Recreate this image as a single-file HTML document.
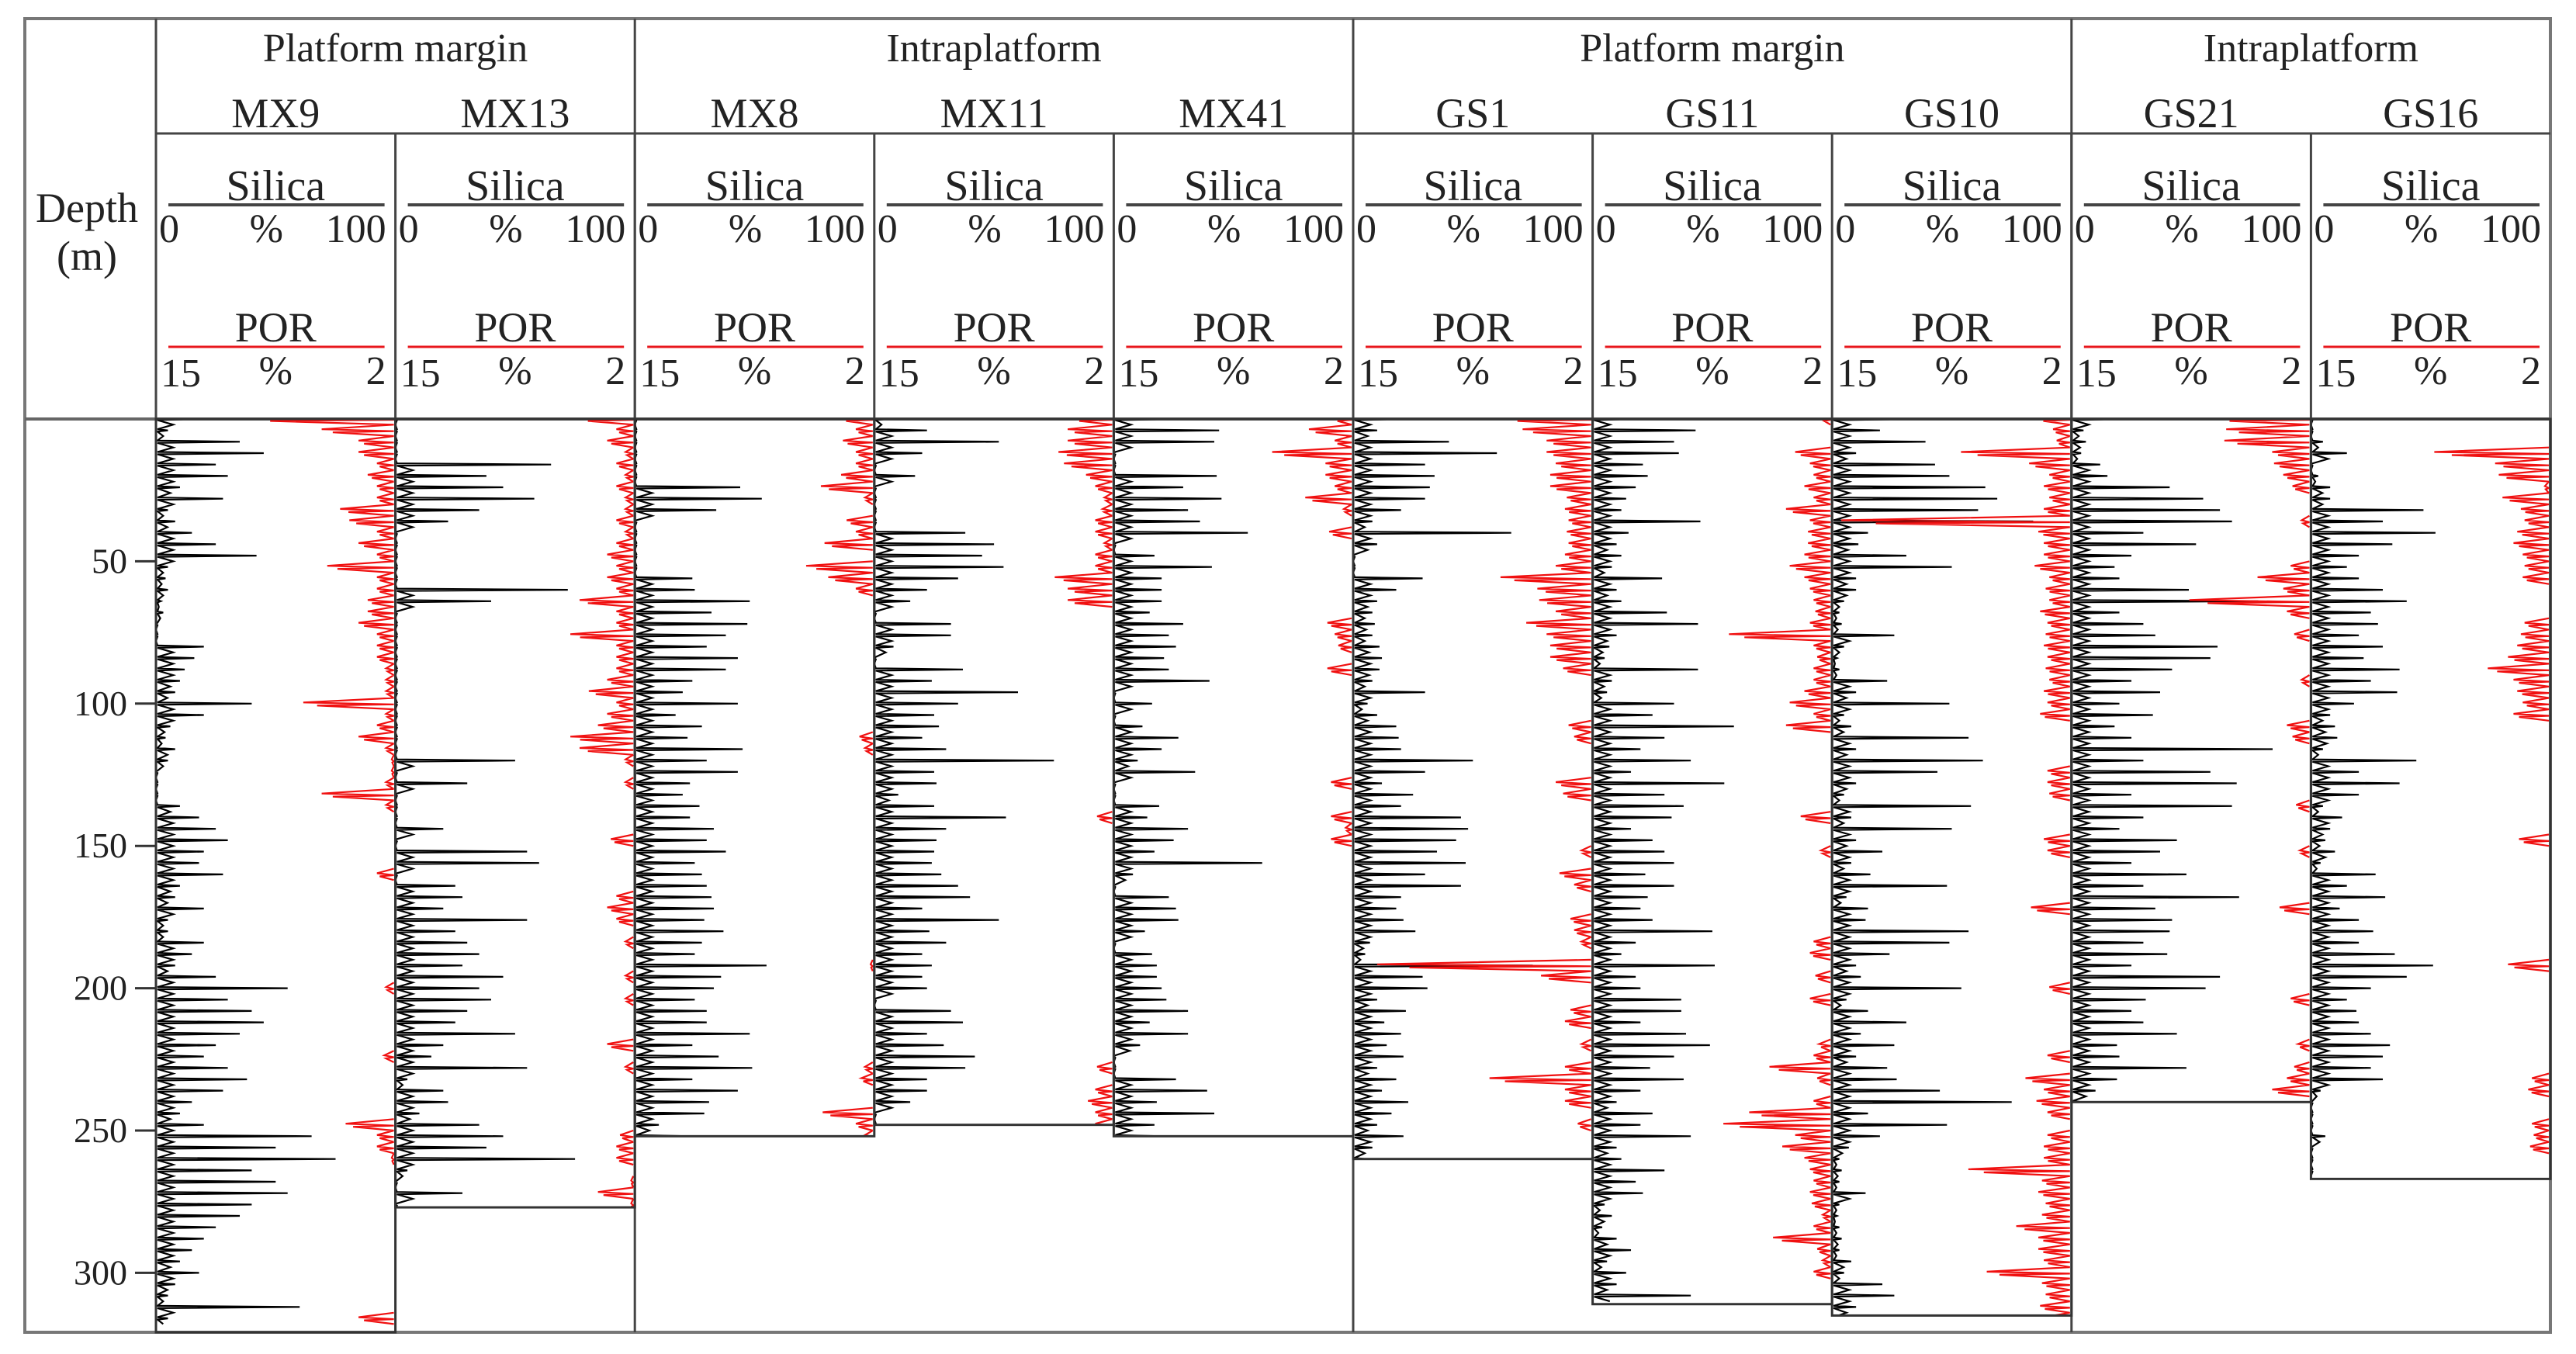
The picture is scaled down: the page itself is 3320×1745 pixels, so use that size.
<!DOCTYPE html>
<html><head><meta charset="utf-8"><style>
html,body{margin:0;padding:0;background:#fff}
svg{display:block}
text{font-family:"Liberation Serif",serif;fill:#222}
</style></head><body>
<svg id="chart" xmlns="http://www.w3.org/2000/svg" width="3320" height="1745" viewBox="0 0 3320 1745">
<rect x="0" y="0" width="3320" height="1745" fill="#fff"/>
<g id="frame"></g>
<g id="header"></g>
<g id="axis"></g>
<g id="plots"></g>
</svg>
<script>
const wellNames = ["MX9","MX13","MX8","MX11","MX41","GS1","GS11","GS10","GS21","GS16"];
const groupNames = ["Platform margin","Intraplatform","Platform margin","Intraplatform"];
const groupStart = [0,2,5,8];
const groupEnd = [2,5,8,10];
const wellBottoms = [321,277,252,248,252,260,311,315,240,267];
const depthTicks = [50,100,150,200,250,300];
const SAMPLE_STEP = 4;

const mx9Silica = [15,5,35,45,25,30,10,28,5,8,15,25,42,5,4,5,2,3,0,0,20,16,12,10,8,40,20,6,4,8,5,0,0,0,10,18,25,30,20,18,28,10,8,20,5,5,20,15,8,25,55,30,40,45,35,25,20,30,38,28,15,10,20,65,50,75,40,50,55,40,35,25,20,15,10,18,8,5,60,5];
const mx9Por = [10,6,4,4,3,3.5,3,3,5,4.5,3,4,3,5.7,3,3,3.5,3.5,4,3,3,3,2.5,2.5,2.5,7,2.5,3,4,2.5,2.2,2.2,2.5,6,2.5,null,null,null,null,null,3,null,null,null,null,null,null,null,null,null,2.5,null,null,null,null,null,2.6,null,null,null,null,null,4.7,3,3,2.2,null,null,null,null,null,null,null,null,null,null,null,null,null,4];
const mx13Silica = [0,0,0,0,65,38,45,58,35,22,0,0,0,0,0,72,40,0,0,0,0,0,0,0,0,0,0,0,0,0,50,0,30,0,0,0,20,0,55,60,0,25,28,20,55,25,30,35,28,45,35,40,30,25,50,20,15,55,5,20,22,10,35,45,38,75,5,0,28,0];
const mx13Por = [5,3,3.5,2.5,3,2.5,3,2.5,2.5,3,2.5,3,3.5,3,3.5,3,5,3,3,5.5,3,3,3,3.5,4.5,3,3.5,4,5.5,5,2.5,null,2.5,null,null,null,null,3.3,null,null,null,null,3,3.5,3,null,2.5,null,null,2.5,null,2.5,null,null,null,3.5,null,2.5,null,null,null,null,null,2.8,3,3,null,2.2,4,2.2];
const mx8Silica = [0,0,0,0,0,0,44,53,34,0,0,0,0,0,24,25,48,32,47,38,30,43,38,24,20,43,17,28,22,45,30,43,23,20,27,23,33,30,38,25,28,30,32,33,29,37,28,25,55,36,33,25,30,30,48,24,35,49,24,43,31,29,10,23];
const mx8Por = [3.8,3,3.7,3,3,3.8,4.9,2.5,null,3.5,3,4.7,null,5.7,4.5,3,null,null,null,null,null,null,null,null,null,null,null,null,2.8,2.5,null,null,null,null,null,null,null,null,null,null,null,null,null,null,null,null,null,null,2.2,null,null,null,null,null,null,null,null,2.5,2.7,null,null,4.8,3,2.5];
const mx11Silica = [5,22,52,20,0,17,0,0,0,0,38,50,45,54,35,22,15,0,32,32,8,0,37,24,60,35,25,27,20,30,75,25,26,10,25,55,30,26,25,24,28,35,40,20,52,23,30,20,24,20,22,0,32,37,22,29,42,38,22,22,15,0,0];
const mx11Por = [4.2,4.5,4.5,5,4.7,3.5,3,2.5,2.6,3,3,2.5,3,3,5.2,4.5,4.5,null,null,null,null,null,null,null,null,null,null,null,null,null,null,null,null,null,null,2.9,null,null,null,null,null,null,null,null,null,null,null,null,null,null,null,null,null,null,null,null,null,2.9,null,3,3.4,3,3];
const mx41Silica = [24,44,42,0,0,43,29,45,31,36,56,0,17,41,20,20,20,15,29,23,26,21,23,40,0,16,0,12,27,20,10,34,0,0,19,14,31,25,17,62,8,0,23,26,27,13,0,16,18,18,20,22,31,15,31,11,0,0,26,39,18,42,17,20];
const mx41Por = [3,4.4,3,6.4,3.5,3.5,3,4.6,2.5,null,3.3,null,null,null,null,null,null,null,3.4,3,2.8,null,3.4,null,null,null,null,null,null,null,null,null,3.2,null,null,3.2,2.4,3.2,null,null,null,null,null,null,null,null,null,null,null,null,null,null,null,null,null,null,null,null,null,null,null,null,null,null];
const gs1Silica = [19,10,40,60,30,34,32,30,20,8,66,10,0,0,29,18,10,8,9,8,11,12,11,8,30,6,10,18,19,20,50,30,12,25,20,45,48,43,35,47,30,45,20,18,21,26,7,5,75,29,31,10,22,13,20,14,21,10,18,12,23,16,10,21,8,5];
const gs1Por = [6.8,5.8,4.5,4.5,4,4.3,4.3,3.4,3.5,3.3,3.4,3.3,3.5,4,7,5,4.9,4,5.6,4.5,4.3,4.3,3.6,null,null,null,null,3.3,3,null,null,null,4,3.6,null,null,null,null,2.6,null,3.8,3,null,null,3.2,3,2.6,null,13.7,4.8,null,null,3.2,3.5,null,2.6,null,3.5,7.6,3.5,3.5,null,2.8,null,null,null];
const gs11Silica = [15,43,34,36,21,23,18,14,12,45,15,10,12,8,29,10,12,31,44,10,7,5,44,8,6,34,25,59,30,20,41,16,55,30,38,33,16,25,30,34,22,34,23,20,25,50,18,12,51,18,20,37,37,20,39,49,34,24,38,20,10,25,20,41,10,12,30,18,21,5,8,4,10,16,6,14,10,41];
const gs11Por = [2.5,null,null,4,3.2,3,3.5,3,4.5,3.2,3.3,3.3,3.5,4.3,3.5,3.2,3,2.9,3.2,7.6,3,2.8,3,3,3.5,4.3,3,4.5,null,null,null,null,null,null,null,3.7,null,null,2.6,null,null,null,null,null,null,null,3,3.2,null,2.9,null,3.2,null,null,null,2.7,3,5.4,2.8,null,3,6.5,7.9,4,4.7,3.5,3.2,3,3.2,3.1,2.5,3,5.2,2.8,2.5,3,null];
const gs10Silica = [32,20,39,10,43,49,64,69,61,84,15,11,31,50,10,10,5,3,4,26,5,2,3,23,10,49,5,8,57,10,63,44,10,5,58,8,50,10,21,8,16,48,6,15,14,57,49,24,10,12,54,6,15,31,12,26,10,23,27,45,75,15,48,20,7,3,4,3,14,3,2,3,4,3,8,5,21,26,10,10];
const gs10Por = [3.8,3,2.8,8,4.3,3.2,3.5,3.2,3.5,14.5,3.8,3.5,3.5,4,3.2,3.4,3.2,3.7,3.3,3.4,3.5,3.3,3.4,3.2,3.5,3.3,3.7,null,null,null,null,3.3,3.3,3.2,null,null,null,3.5,3.3,null,null,null,null,4.2,null,null,null,null,null,null,3.2,null,null,null,null,null,3.3,null,4.5,3.5,3.9,3.3,null,3.3,3.5,3.5,7.6,3.6,3.8,3.4,3.6,5,3.8,3.8,3.5,6.6,3.6,3.4,3.7,3.5];
const gs21Silica = [18,5,6,4,12,15,41,55,62,67,30,52,25,18,20,49,78,20,30,35,61,58,42,25,37,20,34,18,25,84,30,58,69,25,67,30,20,44,37,25,48,30,70,35,42,41,30,40,25,62,56,31,25,30,44,19,20,48,19,10,4];
const gs21Por = [7.2,6.6,6.7,4.1,4,3.5,3,null,null,2.5,null,null,null,3.1,4.9,3.5,8.6,3.3,null,2.9,null,null,null,2.5,null,null,null,3.3,3,null,null,null,null,null,2.8,null,null,null,2.6,null,null,null,null,3.7,null,null,null,null,null,null,null,3.1,null,null,null,2.7,null,2.9,3.3,4.1,null];
const gs16Silica = [0,0,5,15,0,3,8,8,47,30,52,34,20,15,20,30,40,25,28,20,30,22,37,25,36,18,8,10,11,5,44,20,37,20,5,13,8,6,10,4,27,15,31,12,20,26,20,35,51,40,25,15,19,20,25,33,30,25,30,4,0,0,0,6,0,0,0];
const gs16Por = [null,null,null,8.3,5,4.8,2.3,4.6,3.6,3.4,3.8,4,3.5,3.4,3.5,null,null,null,3.4,3.6,3.8,4.3,5.4,4,3.8,3.5,4,null,null,null,null,null,null,null,null,null,null,3.7,null,null,null,null,null,null,null,null,null,null,4.3,null,null,null,null,null,null,null,null,null,3,3.2,null,null,3,2.9,3.1,null,null];

const silicaSeries = [mx9Silica,mx13Silica,mx8Silica,mx11Silica,mx41Silica,gs1Silica,gs11Silica,gs10Silica,gs21Silica,gs16Silica];
const porSeries = [mx9Por,mx13Por,mx8Por,mx11Por,mx41Por,gs1Por,gs11Por,gs10Por,gs21Por,gs16Por];

const NS = "http://www.w3.org/2000/svg";
const LEFT = 32, TOP = 24, RIGHT = 3287, BOTTOM = 1717, COL0 = 201, COLW = 308.6, DATA_TOP = 540;
const colX = i => COL0 + i * COLW;
const yOf = d => DATA_TOP + d * 3.668;
const xSil = (i, v) => colX(i) + v / 100 * COLW;
const xPor = (i, p) => colX(i) + (15 - p) / 13 * COLW;

function mk(parent, tag, attrs, txt) {
  const e = document.createElementNS(NS, tag);
  for (const k in attrs) e.setAttribute(k, attrs[k]);
  if (txt !== undefined) e.textContent = txt;
  parent.appendChild(e);
  return e;
}
const frame = document.getElementById('frame');
const header = document.getElementById('header');
const axis = document.getElementById('axis');
const plots = document.getElementById('plots');

let el = mk(frame, 'rect', {x: LEFT, y: TOP, width: RIGHT - LEFT, height: BOTTOM - TOP, fill: 'none', stroke: '#777', 'stroke-width': 4});


el = mk(frame, 'line', {x1: LEFT, y1: DATA_TOP, x2: RIGHT, y2: DATA_TOP, stroke: '#666', 'stroke-width': 4});


el = mk(frame, 'line', {x1: COL0, y1: 172, x2: RIGHT, y2: 172, stroke: '#444', 'stroke-width': 3});



for (let g = 0; g < groupStart.length; g++) {
  const x = colX(groupStart[g]);
  el = mk(frame, 'line', {x1: x, y1: TOP, x2: x, y2: BOTTOM, stroke: '#444', 'stroke-width': 3});
  
  
  const cx = (colX(groupStart[g]) + colX(groupEnd[g])) / 2;
  el = mk(header, 'text', {x: cx, y: 79, 'font-size': 52, 'text-anchor': 'middle'}, groupNames[g]);
  
  
}

el = mk(header, 'text', {x: 112, y: 286, 'font-size': 54, 'text-anchor': 'middle'}, 'Depth');


el = mk(header, 'text', {x: 112, y: 348, 'font-size': 54, 'text-anchor': 'middle'}, '(m)');



for (const t of depthTicks) {
  const y = yOf(t);
  el = mk(axis, 'line', {x1: 174, y1: y, x2: COL0, y2: y, stroke: '#333', 'stroke-width': 3});
  
  
  el = mk(axis, 'text', {x: 164, y: y + 15, 'font-size': 46, 'text-anchor': 'end'}, String(t));
  
  
}

for (let i = 0; i < wellNames.length; i++) {
  const x0 = colX(i), x1 = colX(i + 1), cx = (x0 + x1) / 2;
  if (i > 0) {
    el = mk(frame, 'line', {x1: x0, y1: 172, x2: x0, y2: DATA_TOP, stroke: '#444', 'stroke-width': 3});
    
    
  }
  const hg = mk(header, 'g', {});
  
  
  el = mk(hg, 'text', {x: cx, y: 164, 'font-size': 54, 'text-anchor': 'middle'}, wellNames[i]);
  
  
  el = mk(hg, 'text', {x: cx, y: 258, 'font-size': 56, 'text-anchor': 'middle'}, 'Silica');
  
  
  el = mk(hg, 'line', {x1: x0 + 16, y1: 264, x2: x1 - 14, y2: 264, stroke: '#444', 'stroke-width': 4});
  
  
  el = mk(hg, 'text', {x: x0 + 4, y: 312, 'font-size': 52}, '0');
  
  
  el = mk(hg, 'text', {x: cx - 12, y: 312, 'font-size': 52, 'text-anchor': 'middle'}, '%');
  
  
  el = mk(hg, 'text', {x: x1 - 12, y: 312, 'font-size': 52, 'text-anchor': 'end'}, '100');
  
  
  el = mk(hg, 'text', {x: cx, y: 440, 'font-size': 54, 'text-anchor': 'middle'}, 'POR');
  
  
  el = mk(hg, 'line', {x1: x0 + 16, y1: 447, x2: x1 - 14, y2: 447, stroke: '#e8171c', 'stroke-width': 3});
  
  
  el = mk(hg, 'text', {x: x0 + 6, y: 498, 'font-size': 52}, '15');
  
  
  el = mk(hg, 'text', {x: cx, y: 495, 'font-size': 52, 'text-anchor': 'middle'}, '%');
  
  
  el = mk(hg, 'text', {x: x1 - 12, y: 495, 'font-size': 52, 'text-anchor': 'end'}, '2');
  
  

  const g = mk(plots, 'g', {});
  
  
  const yb = Math.min(yOf(wellBottoms[i]), BOTTOM);
  const clip = mk(g, 'clipPath', {id: 'clip' + i});
  mk(clip, 'rect', {x: x0, y: DATA_TOP, width: x1 - x0, height: yb - DATA_TOP});

  // silica drawn as spiky log trace: each sample spikes out from near the track's left edge
  const sil = silicaSeries[i];
  let d = '';
  const half = SAMPLE_STEP / 2;
  sil.forEach((v, k) => {
    const y = yOf(k * SAMPLE_STEP);
    d += (k ? 'L' : 'M') + (x0 + 2).toFixed(1) + ' ' + (y - 1.5).toFixed(1);
    d += 'L' + xSil(i, v).toFixed(1) + ' ' + y.toFixed(1);
    d += 'L' + (x0 + 2).toFixed(1) + ' ' + (y + 1.5).toFixed(1);
    d += 'L' + xSil(i, Math.min(v, 12) * 0.6).toFixed(1) + ' ' + yOf(k * SAMPLE_STEP + half).toFixed(1);
  });
  el = mk(g, 'path', {d: d, fill: 'none', stroke: '#000', 'stroke-width': 2.2, 'clip-path': 'url(#clip' + i + ')'});
  
  

  // porosity drawn as spikes from near the right edge
  const por = porSeries[i];
  let pd = '';
  const xr = x1 - 2;
  for (let k = 0; k < por.length; k++) {
    const p = por[k];
    if (p === null) continue;
    const y = yOf(k * SAMPLE_STEP);
    pd += 'M' + xr.toFixed(1) + ' ' + (y - half * 3.668).toFixed(1);
    pd += 'L' + xPor(i, p).toFixed(1) + ' ' + (y - 1.5).toFixed(1);
    pd += 'L' + xr.toFixed(1) + ' ' + (y + 1).toFixed(1);
    pd += 'L' + xPor(i, p * 0.85 + 0.3).toFixed(1) + ' ' + (y + 2.5).toFixed(1);
    pd += 'L' + xr.toFixed(1) + ' ' + (y + half * 3.668).toFixed(1);
  }
  el = mk(g, 'path', {d: pd, fill: 'none', stroke: '#f01010', 'stroke-width': 2.2, 'clip-path': 'url(#clip' + i + ')'});
  
  

  el = mk(g, 'rect', {x: x0, y: DATA_TOP, width: x1 - x0, height: yb - DATA_TOP, fill: 'none', stroke: '#333', 'stroke-width': 3});
  
  
}
</script>
</body></html>
